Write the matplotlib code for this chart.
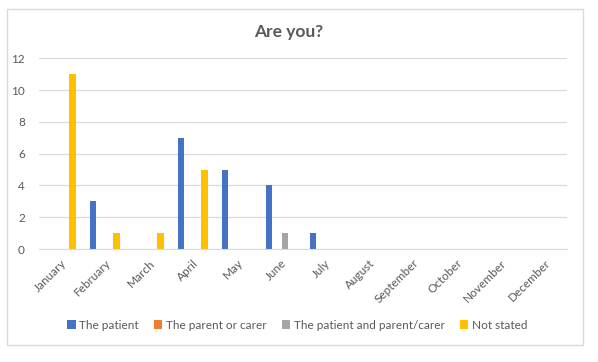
import numpy as np
import matplotlib.pyplot as plt
from matplotlib.patches import Rectangle

months = ["January", "February", "March", "April", "May", "June", "July",
          "August", "September", "October", "November", "December"]
patient = [0, 3, 0, 7, 5, 4, 1, 0, 0, 0, 0, 0]
parent_carer = [0, 0, 0, 0, 0, 0, 0, 0, 0, 0, 0, 0]
patient_and_parent = [0, 0, 0, 0, 0, 1, 0, 0, 0, 0, 0, 0]
not_stated = [11, 1, 1, 5, 0, 0, 0, 0, 0, 0, 0, 0]

series = [("The patient", patient, "#4472C4"),
          ("The parent or carer", parent_carer, "#ED7D31"),
          ("The patient and parent/carer", patient_and_parent, "#A5A5A5"),
          ("Not stated", not_stated, "#FFC000")]

plt.rcParams['font.family'] = ['Lato', 'DejaVu Sans']
txt = "#595959"

fig = plt.figure(figsize=(5.98, 3.62), dpi=100)
ax = fig.add_axes([0.065, 0.312, 0.883, 0.527])

x = np.arange(len(months))
step = 0.18
w = 0.15
for k, (name, vals, col) in enumerate(series):
    ax.bar(x + (k - 1.5) * step, vals, width=w, color=col, label=name)

ax.set_xlim(-0.5, len(months) - 0.5)
ax.set_ylim(0, 12)
ax.set_yticks(range(0, 13, 2))
ax.yaxis.grid(True, color="#D9D9D9", linewidth=0.9)
ax.set_axisbelow(True)
for s in ["top", "right", "left"]:
    ax.spines[s].set_visible(False)
ax.spines["bottom"].set_color("#D9D9D9")
ax.tick_params(axis="both", length=0, colors=txt, labelsize=8.5)
ax.tick_params(axis="y", pad=10)
ax.set_xticks(x)
ax.set_xticklabels(months, rotation=45, ha="right", rotation_mode="anchor")
ax.tick_params(axis="x", pad=6)

fig.text(0.482, 0.912, "Are you?", ha="center", va="center",
         fontsize=12.5, fontweight="bold", color=txt)

leg = fig.legend(loc="center", bbox_to_anchor=(0.497, 0.102), ncol=4,
                 frameon=False, fontsize=8.5, handlelength=0.7, handleheight=0.7,
                 handletextpad=0.3, columnspacing=1.3, labelcolor=txt)

fig.patches.append(Rectangle((7 / 598, 1 - 345 / 362), 576 / 598, 336 / 362,
                             transform=fig.transFigure, fill=False,
                             edgecolor="#D9D9D9", linewidth=1))

fig.savefig("out.png", dpi=100)
